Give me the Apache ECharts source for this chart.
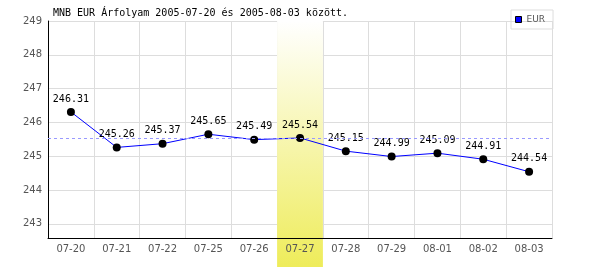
<!DOCTYPE html>
<html>
<head>
<meta charset="utf-8">
<script src="https://cdn.jsdelivr.net/npm/echarts@6/dist/echarts.min.js"></script>
<style>html,body{margin:0;padding:0;background:#fff;}#c{width:600px;height:270px;}</style>
</head>
<body>
<div id="c"></div>
<script>
const titleText = 'MNB EUR Árfolyam 2005-07-20 és 2005-08-03 között.';
const seriesName = 'EUR';
const categories = ['07-20','07-21','07-22','07-25','07-26','07-27','07-28','07-29','08-01','08-02','08-03'];
const eurValues = [246.31, 245.26, 245.37, 245.65, 245.49, 245.54, 245.15, 244.99, 245.09, 244.91, 244.54];
const highlightDate = '07-27';
const yMin = 242.58;
const yMax = 249;

const hiIdx = categories.indexOf(highlightDate);
const bandData = categories.map((c, i) => i === hiIdx ? 1 : null);

const chart = echarts.init(document.getElementById('c'), null, {renderer: 'canvas'});
chart.setOption({
  animation: false,
  backgroundColor: '#ffffff',
  title: {
    text: titleText, left: 53, top: 8, padding: 0,
    textStyle: {fontFamily: 'DejaVu Sans Mono', fontSize: 10, fontWeight: 'normal', color: '#000'}
  },
  legend: {
    left: 511, top: 10, padding: [5, 8, 5, 4],
    borderColor: '#dddddd', borderWidth: 1,
    itemWidth: 6, itemHeight: 6, icon: 'rect', selectedMode: false,
    textStyle: {fontFamily: 'DejaVu Sans', fontSize: 9, color: '#555'},
    data: [{name: seriesName, itemStyle: {color: '#0000ff', borderColor: '#000', borderWidth: 1}}]
  },
  grid: [
    {left: 48, right: 48, top: 21, bottom: 32, containLabel: false},
    {left: 48, right: 48, top: 21, bottom: 3, containLabel: false}
  ],
  xAxis: [
    {gridIndex: 0, type: 'category', data: categories, boundaryGap: true,
     axisLine: {show: false}, axisTick: {show: false}, axisLabel: {show: false},
     splitLine: {show: true, interval: 0, lineStyle: {color: '#dddddd', width: 1}}},
    {gridIndex: 0, type: 'category', data: categories, boundaryGap: true, position: 'bottom', z: 10,
     axisLine: {show: true, lineStyle: {color: '#000', width: 1}}, axisTick: {show: false},
     axisLabel: {interval: 0, margin: 6, color: '#555', fontFamily: 'DejaVu Sans', fontSize: 10},
     splitLine: {show: false}},
    {gridIndex: 1, type: 'category', data: categories, boundaryGap: true, show: false}
  ],
  yAxis: [
    {gridIndex: 0, type: 'value', min: yMin, max: yMax, splitNumber: 5,
     axisLine: {show: true, lineStyle: {color: '#000', width: 1}}, axisTick: {show: false},
     axisLabel: {showMinLabel: false, margin: 6, color: '#555', fontFamily: 'DejaVu Sans', fontSize: 10},
     splitLine: {show: true, lineStyle: {color: '#dddddd', width: 1}}},
    {gridIndex: 1, type: 'value', min: 0, max: 1, show: false}
  ],
  series: [
    {
      name: 'ref', type: 'line', xAxisIndex: 0, yAxisIndex: 0, z: 0, data: [],
      symbol: 'none', silent: true,
      markLine: {symbol: 'none', silent: true, label: {show: false},
        lineStyle: {color: '#9999ff', type: [3, 3], width: 1},
        data: [{yAxis: eurValues[hiIdx]}]}
    },
    {
      name: 'band', type: 'bar', xAxisIndex: 2, yAxisIndex: 1, z: 1,
      data: bandData, barWidth: '100%', silent: true,
      itemStyle: {color: new echarts.graphic.LinearGradient(0, 0, 0, 1, [
        {offset: 0, color: '#ffffff'}, {offset: 1, color: '#eeec5a'}])}
    },
    {
      name: seriesName, type: 'line', xAxisIndex: 0, yAxisIndex: 0, z: 3,
      data: eurValues, symbol: 'circle', symbolSize: 8,
      lineStyle: {color: '#0000ff', width: 1},
      itemStyle: {color: '#000'},
      label: {show: true, position: 'top', distance: 4, color: '#000',
        fontFamily: 'DejaVu Sans Mono', fontSize: 10,
        formatter: p => p.value.toFixed(2)}
    }
  ]
});
</script>
</body>
</html>
